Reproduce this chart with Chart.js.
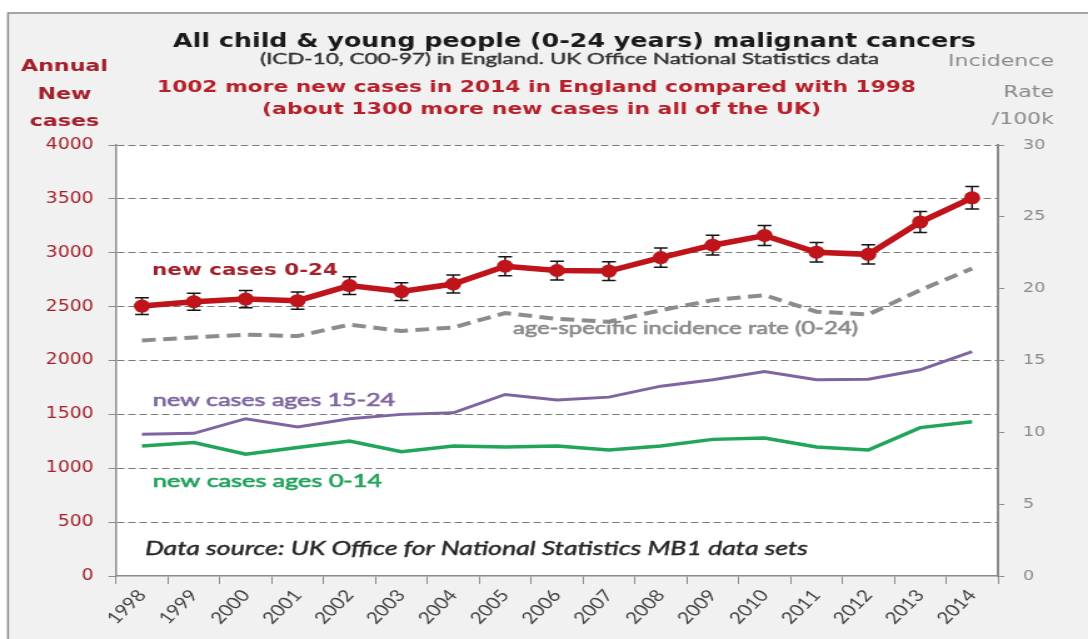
<!DOCTYPE html>
<html>
<head>
<meta charset="utf-8">
<title>Child &amp; young people malignant cancers</title>
<script src="https://cdn.jsdelivr.net/npm/chart.js@4.4.1/dist/chart.umd.min.js"></script>
<style>
  html, body { margin: 0; padding: 0; background: #fff; overflow: hidden; }
</style>
</head>
<body>
<canvas id="chart" width="870" height="639" style="display:block;width:1088px;height:639px"></canvas>
<script>
// values
const years = ['1998', '1999', '2000', '2001', '2002', '2003', '2004', '2005', '2006',
               '2007', '2008', '2009', '2010', '2011', '2012', '2013', '2014'];
const newCases0to24 = [2505, 2545, 2570, 2555, 2695, 2640, 2710, 2875, 2835,
                       2830, 2955, 3070, 3160, 3005, 2985, 3285, 3510];
const error0to24 = [78, 78, 80, 80, 82, 82, 83, 88, 87, 87, 90, 92, 92, 90, 90, 98, 105];
const incidenceRate = [16.4, 16.6, 16.8, 16.7, 17.5, 17.05, 17.3, 18.3, 17.9,
                       17.7, 18.5, 19.2, 19.55, 18.4, 18.2, 19.9, 21.4];
const newCases15to24 = [1315, 1324, 1460, 1383, 1460, 1500, 1515, 1685, 1633,
                        1660, 1762, 1821, 1898, 1821, 1827, 1914, 2083];
const newCases0to14 = [1207, 1238, 1130, 1192, 1253, 1154, 1207, 1198, 1207,
                       1170, 1207, 1268, 1280, 1197, 1170, 1377, 1432];
const casesTicks = [0, 500, 1000, 1500, 2000, 2500, 3000, 3500, 4000];
const rateTicks = [0, 5, 10, 15, 20, 25, 30];

// the original picture is a bit stretched sideways, so draw on a narrower canvas and widen it with css
const CANVAS_W = 870;
const SX = 1088 / CANVAS_W;
const px = x => x / SX;   // page x -> canvas x

const DARK_RED = '#a3202a';
const GREY = '#8a8a8a';

// --- plugins ---------------------------------------------------------------

const frame = {
    id: 'frame',
    beforeDraw(chart) {
        const { ctx, chartArea: a, width, height } = chart;
        ctx.save();
        ctx.fillStyle = '#fff';
        ctx.fillRect(0, 0, width, height);
        ctx.fillStyle = '#f1f1f1';
        ctx.fillRect(px(8), 13, width, height);
        ctx.strokeStyle = '#8a8a8a';
        ctx.lineWidth = 1.5;
        ctx.beginPath();
        ctx.moveTo(px(8), height);
        ctx.lineTo(px(8), 13);
        ctx.lineTo(width, 13);
        ctx.stroke();
        ctx.fillStyle = '#fff';
        ctx.fillRect(a.left, a.top, a.right - a.left, a.bottom - a.top);
        ctx.restore();
    }
};

const errorBars = {
    id: 'errorBars',
    beforeDatasetDraw(chart, args) {
        if (args.index !== 0) return;
        const { ctx } = chart;
        const xs = chart.scales.x, ys = chart.scales.y;
        ctx.save();
        ctx.strokeStyle = '#151515';
        ctx.lineWidth = 1.5;
        newCases0to24.forEach((v, i) => {
            const cx = xs.getPixelForValue(i);
            const top = ys.getPixelForValue(v + error0to24[i]);
            const bot = ys.getPixelForValue(v - error0to24[i]);
            ctx.beginPath();
            ctx.moveTo(cx, top); ctx.lineTo(cx, bot);
            ctx.moveTo(cx - 5.5, top); ctx.lineTo(cx + 5.5, top);
            ctx.moveTo(cx - 5.5, bot); ctx.lineTo(cx + 5.5, bot);
            ctx.stroke();
        });
        ctx.restore();
    }
};

// text drawn with a horizontal squeeze k, at page x; heavy adds a thin outline
function drawScaled(ctx, text, font, x, base, color, align, k, heavy) {
    ctx.save();
    ctx.font = font;
    ctx.fillStyle = color;
    ctx.textAlign = align;
    ctx.textBaseline = 'alphabetic';
    ctx.translate(px(x), base);
    ctx.scale(k, 1);
    ctx.fillText(text, 0, 0);
    if (heavy) {
        ctx.strokeStyle = color;
        ctx.lineWidth = heavy;
        ctx.strokeText(text, 0, 0);
    }
    ctx.restore();
}

// text that spans page x1..x2, font size kept for the height
function spanText(ctx, text, font, x1, x2, base, color, heavy) {
    ctx.font = font;
    const k = px(x2 - x1) / ctx.measureText(text).width;
    drawScaled(ctx, text, font, x1, base, color, 'left', k, heavy);
    return k;
}

const labels = {
    id: 'labels',
    afterDraw(chart) {
        const { ctx } = chart;
        spanText(ctx, 'All child & young people (0-24 years) malignant cancers', 'bold 20px "DejaVu Sans"', 173, 976, 47, '#1a1a1a');
        spanText(ctx, '(ICD-10, C00-97) in England. UK Office National Statistics data', '15.5px Lato', 260, 879, 64, '#333', 0.4);
        spanText(ctx, '1002 more new cases in 2014 in England compared with 1998', 'bold 16.5px "DejaVu Sans"', 157, 916, 92, '#b5202a');
        spanText(ctx, '(about 1300 more new cases in all of the UK)', 'bold 16.5px "DejaVu Sans"', 262, 821, 114, '#b5202a');

        // left axis title
        const fl = 'bold 15.5px "DejaVu Sans"';
        const k1 = spanText(ctx, 'Annual', fl, 21, 108, 71, DARK_RED);
        drawScaled(ctx, 'New', fl, 64.5, 99, DARK_RED, 'center', k1);
        drawScaled(ctx, 'cases', fl, 64.5, 126, DARK_RED, 'center', k1);

        // right axis title
        const fr = '16.5px "DejaVu Sans"';
        ctx.font = fr;
        const k2 = px(106) / ctx.measureText('Incidence').width;
        drawScaled(ctx, 'Incidence', fr, 1054, 66, GREY, 'right', k2);
        drawScaled(ctx, 'Rate', fr, 1054, 97, GREY, 'right', k2);
        drawScaled(ctx, '/100k', fr, 1054, 124, GREY, 'right', k2);

        // series labels inside the plot
        spanText(ctx, 'new cases 0-24', 'bold 16px "DejaVu Sans"', 152, 338, 275, DARK_RED);
        spanText(ctx, 'age-specific incidence rate (0-24)', '17px Lato', 513, 858, 334, GREY, 0.6);
        spanText(ctx, 'new cases ages 15-24', '16.5px Lato', 153, 395, 406, '#7f67a0', 0.6);
        spanText(ctx, 'new cases ages 0-14', '16.5px Lato', 153, 382, 487, '#21a35b', 0.6);
        spanText(ctx, 'Data source: UK Office for National Statistics MB1 data sets', 'italic 18.5px Lato', 145, 808, 555, '#262626', 0.4);
    }
};

// --- chart -----------------------------------------------------------------

new Chart(document.getElementById('chart'), {
    type: 'line',
    data: {
        labels: years,
        datasets: [
            {
                label: 'new cases 0-24',
                data: newCases0to24,
                yAxisID: 'y',
                borderColor: '#c0141b',
                backgroundColor: '#c0141b',
                borderWidth: 5.5,
                pointRadius: 6.5,
                pointBorderWidth: 0,
                tension: 0
            },
            {
                label: 'age-specific incidence rate (0-24)',
                data: incidenceRate,
                yAxisID: 'y2',
                borderColor: '#8c8c8c',
                borderWidth: 4,
                borderDash: [11, 6],
                pointRadius: 0,
                tension: 0
            },
            {
                label: 'new cases ages 15-24',
                data: newCases15to24,
                yAxisID: 'y',
                borderColor: '#8064a2',
                borderWidth: 3,
                pointRadius: 0,
                tension: 0
            },
            {
                label: 'new cases ages 0-14',
                data: newCases0to14,
                yAxisID: 'y',
                borderColor: '#20a55a',
                borderWidth: 3.5,
                pointRadius: 0,
                tension: 0
            }
        ]
    },
    options: {
        responsive: false,
        devicePixelRatio: 1,
        animation: false,
        layout: { padding: { top: 145, left: 0, right: 0, bottom: 0 } },
        plugins: { legend: { display: false }, tooltip: { enabled: false } },
        scales: {
            x: {
                type: 'category',
                offset: true,
                grid: { offset: true, drawOnChartArea: false, tickLength: 8, color: '#8c8c8c', tickColor: '#8c8c8c' },
                border: { color: '#8c8c8c', width: 1.5 },
                ticks: {
                    color: '#404040',
                    font: { family: 'Lato', size: 16.5 },
                    minRotation: 50,
                    maxRotation: 50,
                    autoSkip: false,
                    padding: 2
                },
                afterFit: s => { s.height = 63; }
            },
            y: {
                position: 'left',
                min: 0,
                max: 4000,
                afterBuildTicks: s => { s.ticks = casesTicks.map(v => ({ value: v })); },
                grid: {
                    color: c => (c.tick && c.tick.value === 0) ? 'rgba(0,0,0,0)' : '#7a7a7a',
                    tickColor: '#8c8c8c',
                    tickLength: 6,
                    lineWidth: 1
                },
                border: { color: '#8c8c8c', width: 1.5, dash: [6, 3] },
                ticks: {
                    color: DARK_RED,
                    font: { family: 'DejaVu Sans', size: 15 },
                    padding: 12,
                    callback: v => String(v)
                },
                afterFit: s => { s.width = px(116); }
            },
            y2: {
                position: 'right',
                min: 0,
                max: 30,
                afterBuildTicks: s => { s.ticks = rateTicks.map(v => ({ value: v })); },
                grid: { drawOnChartArea: false, tickLength: 5, tickColor: '#8c8c8c' },
                border: { color: '#8c8c8c', width: 2 },
                ticks: {
                    color: GREY,
                    font: { family: 'DejaVu Sans', size: 14 },
                    padding: 15,
                    callback: v => String(v)
                },
                afterFit: s => { s.width = CANVAS_W - px(998); }
            }
        }
    },
    plugins: [frame, errorBars, labels]
});
</script>
</body>
</html>
